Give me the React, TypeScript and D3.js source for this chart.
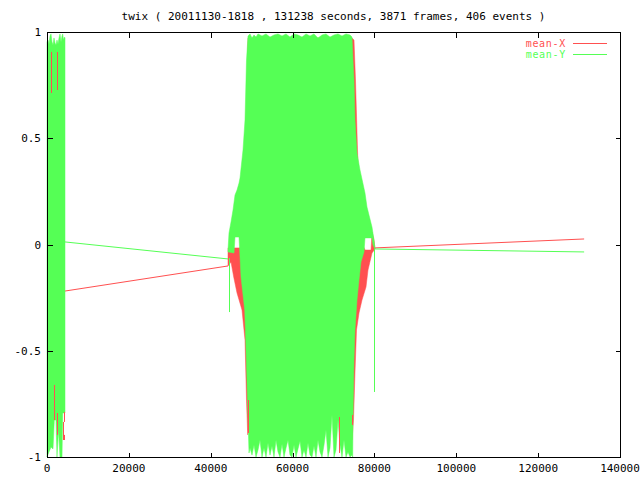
import React from "react";
import * as d3 from "d3";

const TITLE = "twix ( 20011130-1818 , 131238 seconds, 3871 frames, 406 events )";
const X_TICKS = [0, 20000, 40000, 60000, 80000, 100000, 120000, 140000];
const Y_TICKS = [-1, -0.5, 0, 0.5, 1];
const SERIES_NAMES = ["mean-X", "mean-Y"];
const SERIES_COLORS = ["#ff5050", "#55ff55"];

// Dense block 1 (0 .. 4400 s): envelope of mean-Y oscillation [seconds, value]
const greenBlock1Upper: [number, number][] = [
  [0, 0.953], [244, 0.962], [489, 0.944], [733, 0.981], [977, 0.991], [1222, 0.953],
  [1466, 0.939], [1710, 0.972], [1955, 0.948], [2199, 0.939], [2443, 0.962], [2688, 0.944],
  [2932, 0.972], [3176, 0.991], [3421, 0.953], [3665, 0.981], [3836, 0.991], [4031, 0.962],
  [4276, 0.976], [4398, 0.972],
];
const greenBlock1Lower: [number, number][] = [
  [0, -1.0], [489, -0.976], [977, -0.953], [1466, -0.962], [1784, -0.826], [2199, -0.826],
  [2443, -1.0], [2810, -0.873], [3176, -1.0], [3665, -1.0], [3836, -0.793], [4398, -0.793],
];
// visible mean-X excursions [seconds, from, to]
const redSpikes: [number, number, number][] = [
  [0, 0.915, 0.605], [904, 0.906, 0.713], [2370, 0.906, 0.727], [1784, -0.661, -0.826],
  [2443, -0.793, -0.896], [3836, -0.835, -0.92], [4227, -0.788, -0.835], [4227, -0.896, -0.92],
  [49037, -0.732, -0.887], [71418, -0.812, -0.981], [74521, -0.802, -0.849],
];
const greenSpikes: [number, number, number][] = [
  [44541, -0.064, -0.318], [79896, -0.021, -0.694],
];

// Dense block 2 (44200 .. 80100 s)
const greenBlock2Upper: [number, number][] = [
  [44224, -0.026], [44468, 0.054], [44957, 0.106], [45445, 0.162], [45934, 0.233],
  [46423, 0.256], [46911, 0.289], [47156, 0.313], [47889, 0.445], [48377, 0.586],
  [48744, 0.868], [49110, 0.981], [49599, 0.991], [50088, 0.972], [50576, 0.986],
  [51065, 0.976], [51554, 0.991], [52531, 0.981], [53508, 0.991], [54486, 0.976],
  [55463, 0.986], [56440, 0.991], [57418, 0.981], [58395, 0.991], [59372, 0.976],
  [60350, 0.991], [61327, 0.986], [62304, 0.976], [63281, 0.991], [64259, 0.981],
  [65236, 0.991], [66213, 0.972], [67191, 0.986], [68168, 0.991], [69145, 0.976],
  [70123, 0.986], [71100, 0.991], [72077, 0.981], [73055, 0.991], [74032, 0.986],
  [74521, 0.976], [74765, 0.868], [75009, 0.774], [75253, 0.586], [75742, 0.431],
  [76475, 0.351], [77697, 0.242], [78186, 0.176], [79407, 0.082], [79896, 0.021],
  [80140, -0.021],
];
const greenBlock2Lower: [number, number][] = [
  [44224, -0.035], [45690, -0.04], [45934, 0.035], [46911, 0.035], [47156, -0.059],
  [47400, -0.153], [48304, -0.308], [48622, -0.496], [48988, -0.732], [49355, -0.981],
  [49599, -0.958], [50088, -0.991], [50576, -0.944], [51065, -1.0], [51554, -0.967],
  [52042, -0.92], [52531, -1.0], [53020, -0.958], [53508, -1.0], [53997, -0.934],
  [54486, -0.991], [54974, -0.948], [55463, -1.0], [55952, -0.92], [56440, -0.976],
  [56929, -1.0], [57418, -0.939], [57906, -1.0], [58395, -0.958], [58884, -0.92],
  [59372, -0.991], [59861, -1.0], [60350, -0.944], [60838, -1.0], [61327, -0.962],
  [61816, -0.925], [62304, -1.0], [62793, -0.967], [63281, -1.0], [63770, -0.934],
  [64259, -0.991], [64747, -1.0], [65236, -0.948], [65725, -1.0], [66213, -0.92],
  [66702, -0.976], [67191, -1.0], [67679, -0.944], [68168, -0.873], [68657, -1.0],
  [69145, -0.958], [69634, -0.802], [70123, -1.0], [70611, -0.967], [71100, -0.826],
  [71589, -0.944], [72077, -1.0], [72566, -0.92], [73055, -1.0], [73543, -0.976],
  [74032, -1.0], [74521, -0.991], [74692, -1.0], [74765, -0.826], [75009, -0.544],
  [75253, -0.402], [75742, -0.261], [76231, -0.167], [76719, -0.082], [77453, -0.035],
  [77697, 0.031], [79407, 0.031], [79652, -0.002], [80140, -0.021],
];
const redBlock2Upper: [number, number][] = [
  [44224, -0.016], [45934, -0.016], [47156, -0.016], [47889, 0.021], [48622, 0.586],
  [49110, 0.972], [74521, 0.972], [75009, 0.962], [75375, 0.774], [75864, 0.445],
  [76231, 0.256], [76719, 0.045], [76964, 0.007], [77697, -0.026], [79163, -0.026],
  [79407, 0.059], [79896, 0.021], [80140, -0.021],
];
const redBlock2Lower: [number, number][] = [
  [44224, -0.101], [44957, -0.082], [45617, -0.153], [46423, -0.228], [47644, -0.308],
  [48377, -0.449], [48744, -0.732], [49037, -0.896], [49599, -0.694], [74032, -0.694],
  [74521, -0.92], [74887, -0.826], [75253, -0.6], [75620, -0.402], [76231, -0.322],
  [76964, -0.261], [77941, -0.2], [78430, -0.12], [79407, -0.04], [80140, -0.021],
];

// Sparse stretches between the dense blocks [seconds, value]
const redLeftLine: [number, number][] = [[4398, -0.219], [44224, -0.101]];
const greenLeftLine: [number, number][] = [[4398, 0.012], [44224, -0.068]];
const redRightLine: [number, number][] = [[80140, -0.016], [131238, 0.026]];
const greenRightLine: [number, number][] = [[80140, -0.021], [131238, -0.035]];

const W = 640, H = 480;
const L = 47, R = 620, T = 32, B = 457;
const FONT = "'DejaVu Sans Mono', monospace";

export default function App() {
  const x = d3.scaleLinear().domain([0, 140000]).range([L, R]);
  const y = d3.scaleLinear().domain([-1, 1]).range([B, T]);
  const line = d3.line<[number, number]>().x((d) => x(d[0])).y((d) => y(d[1]));
  const band = (up: [number, number][], lo: [number, number][]) =>
    (line([...up, ...lo.slice().reverse()]) || "") + "Z";
  const tick = 5;

  return (
    <svg width={W} height={H} style={{ position: "absolute", left: 0, top: 0, background: "#fff" }}>
      <rect x={0} y={0} width={W} height={H} fill="#fff" />
      <text x={(L + R) / 2} y={20} textAnchor="middle" fontFamily={FONT} fontSize={11} fill="#000">
        {TITLE}
      </text>

      {/* mean-X */}
      <path d={band(redBlock2Upper, redBlock2Lower)} fill={SERIES_COLORS[0]} stroke={SERIES_COLORS[0]} strokeWidth={0.5} />
      <path d={line(redLeftLine) || ""} fill="none" stroke={SERIES_COLORS[0]} strokeWidth={1} />
      <path d={line(redRightLine) || ""} fill="none" stroke={SERIES_COLORS[0]} strokeWidth={1} />

      {/* mean-Y */}
      <path d={band(greenBlock1Upper, greenBlock1Lower)} fill={SERIES_COLORS[1]} stroke={SERIES_COLORS[1]} strokeWidth={0.5} />
      <path d={band(greenBlock2Upper, greenBlock2Lower)} fill={SERIES_COLORS[1]} stroke={SERIES_COLORS[1]} strokeWidth={0.5} />
      <path d={line(greenLeftLine) || ""} fill="none" stroke={SERIES_COLORS[1]} strokeWidth={1} />
      <path d={line(greenRightLine) || ""} fill="none" stroke={SERIES_COLORS[1]} strokeWidth={1} />
      {greenSpikes.map((s, i) => (
        <line key={"gs" + i} x1={Math.round(x(s[0])) + 0.5} x2={Math.round(x(s[0])) + 0.5} y1={y(s[1])} y2={y(s[2])} stroke={SERIES_COLORS[1]} strokeWidth={1} />
      ))}
      {redSpikes.map((s, i) => (
        <line key={"rs" + i} x1={Math.round(x(s[0])) + 0.5} x2={Math.round(x(s[0])) + 0.5} y1={y(s[1])} y2={y(s[2])} stroke={SERIES_COLORS[0]} strokeWidth={1} />
      ))}

      {/* frame */}
      <g shapeRendering="crispEdges" stroke="#000" strokeWidth={1}>
        <rect x={L + 0.5} y={T + 0.5} width={R - L} height={B - T} fill="none" />
        {X_TICKS.map((t) => (
          <g key={"xt" + t}>
            <line x1={Math.round(x(t)) + 0.5} x2={Math.round(x(t)) + 0.5} y1={B + 0.5} y2={B + 0.5 - tick} />
            <line x1={Math.round(x(t)) + 0.5} x2={Math.round(x(t)) + 0.5} y1={T + 0.5} y2={T + 0.5 + tick} />
          </g>
        ))}
        {Y_TICKS.map((t) => (
          <g key={"yt" + t}>
            <line x1={L + 0.5} x2={L + 0.5 + tick} y1={Math.round(y(t)) + 0.5} y2={Math.round(y(t)) + 0.5} />
            <line x1={R + 0.5} x2={R + 0.5 - tick} y1={Math.round(y(t)) + 0.5} y2={Math.round(y(t)) + 0.5} />
          </g>
        ))}
      </g>
      {X_TICKS.map((t) => (
        <text key={"xl" + t} x={x(t)} y={B + 15} textAnchor="middle" fontFamily={FONT} fontSize={11} fill="#000">
          {String(t)}
        </text>
      ))}
      {Y_TICKS.map((t) => (
        <text key={"yl" + t} x={L - 6} y={y(t) + 4} textAnchor="end" fontFamily={FONT} fontSize={11} fill="#000">
          {String(t)}
        </text>
      ))}

      {/* legend */}
      {SERIES_NAMES.map((n, i) => (
        <g key={n}>
          <text x={566} y={46.5 + i * 11.5} textAnchor="end" fontFamily={FONT} fontSize={10} letterSpacing={0.7} fill={SERIES_COLORS[i]}>
            {n}
          </text>
          <line x1={573} x2={607} y1={43.5 + i * 11} y2={43.5 + i * 11} stroke={SERIES_COLORS[i]} strokeWidth={1} shapeRendering="crispEdges" />
        </g>
      ))}
    </svg>
  );
}
